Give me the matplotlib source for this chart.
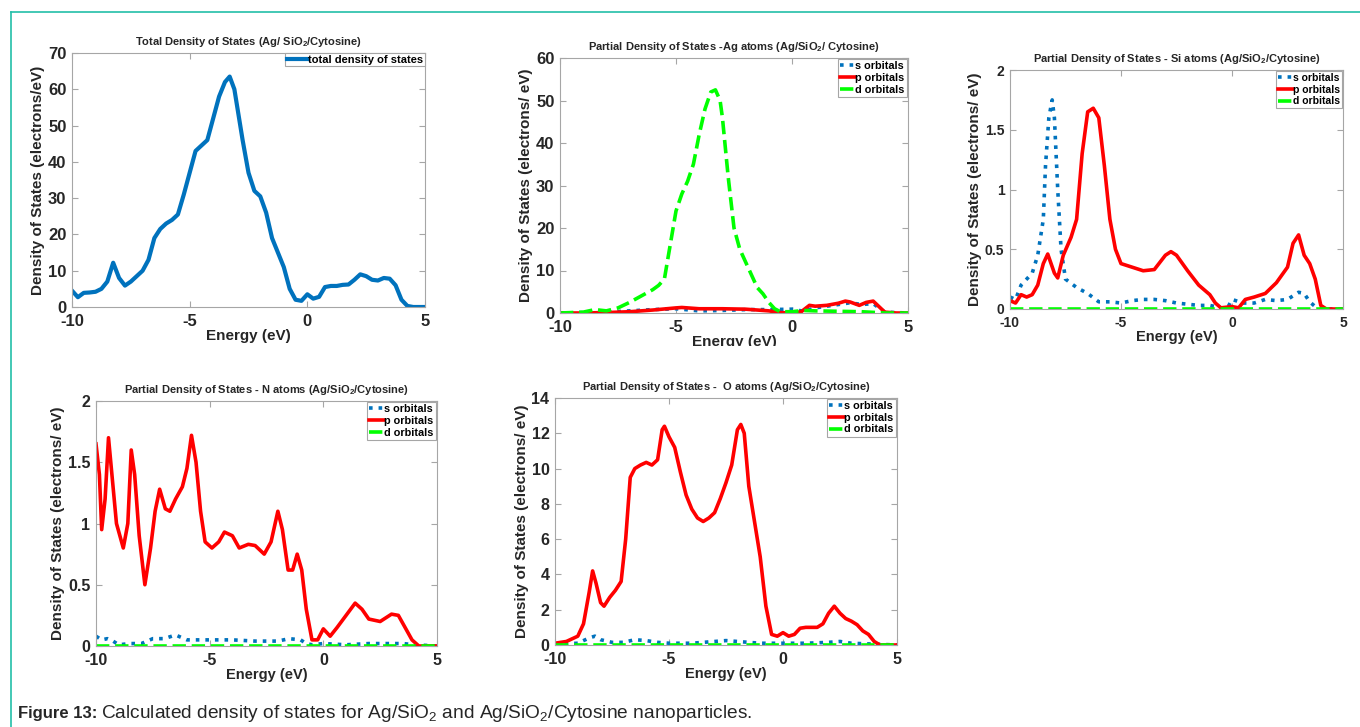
import matplotlib
matplotlib.use('Agg')
import matplotlib.pyplot as plt
from matplotlib.patches import Rectangle
from matplotlib.lines import Line2D

plt.rcParams['font.family'] = ['Liberation Sans', 'DejaVu Sans']
plt.rcParams['mathtext.default'] = 'regular'
plt.rcParams['axes.unicode_minus'] = False

# ---- data ----
# total DOS
tot_e = [-10, -9.75, -9.5, -9.25, -9, -8.75, -8.5, -8.25, -8, -7.75, -7.5, -7.25, -7, -6.75, -6.5,
         -6.25, -6, -5.75, -5.5, -5.25, -5, -4.75, -4.5, -4.25, -4, -3.75, -3.5, -3.3, -3.1, -3,
         -2.75, -2.5, -2.25, -2, -1.75, -1.5, -1.25, -1, -0.75, -0.5, -0.25, 0, 0.25, 0.5, 0.75,
         1, 1.25, 1.5, 1.75, 2, 2.25, 2.5, 2.75, 3, 3.25, 3.5, 3.75, 4, 4.25, 4.5, 5]
tot_dos = [4.5, 2.7, 3.9, 4.0, 4.2, 5, 7, 12.2, 8, 5.9, 7, 8.5, 10, 13, 19,
           21.5, 23, 24, 25.5, 31, 37, 43, 44.5, 46, 52, 58, 62, 63.5, 60, 56,
           46, 37, 32, 30.5, 26, 19, 15, 11, 5, 2, 1.7, 3.5, 2.3, 2.8, 5.5,
           5.8, 5.8, 6.1, 6.2, 7.5, 9, 8.5, 7.5, 7.3, 8, 7.8, 6, 2, 0.3, 0, 0]

# Ag atoms
ag_d_e = [-10, -9, -8.5, -8, -7.5, -7, -6.5, -6, -5.75, -5.5, -5.25, -5, -4.75, -4.5, -4.25, -4,
          -3.75, -3.5, -3.3, -3.1, -3, -2.75, -2.5, -2.25, -2, -1.75, -1.5, -1.25, -1, -0.75,
          -0.5, 0, 0.5, 1, 2, 3, 4, 5]
ag_d = [0, 0.2, 0.8, 0.5, 1.2, 2.5, 4, 5.5, 6.5, 8, 16, 24, 28, 31, 35, 42,
        48, 52, 52.5, 50, 46, 32, 20, 15, 12, 9, 6, 4.5, 2.5, 1,
        0.3, 0.3, 0.6, 0.5, 0.4, 0.3, 0, 0]
ag_p_e = [-10, -9, -8, -7, -6, -5, -4.75, -4.5, -4, -3, -2, -1.5, -1, -0.5, 0, 0.4, 0.75, 1,
          1.5, 2, 2.3, 2.5, 2.9, 3.2, 3.5, 3.75, 4, 4.5, 5]
ag_p = [0, 0, 0.1, 0.3, 0.7, 1.2, 1.3, 1.2, 1.0, 1.0, 0.9, 0.7, 0.5, 0.1, 0, 0.3, 1.8, 1.6,
        1.8, 2.3, 2.8, 2.6, 1.8, 2.5, 2.8, 1.5, 0.2, 0, 0]
ag_s_e = [-10, -8, -6, -5, -4, -3, -2, -1, 0, 0.5, 1, 2, 2.5, 3, 3.5, 4, 5]
ag_s = [0, 0.2, 0.8, 1.0, 0.5, 0.6, 0.8, 0.8, 0.9, 0.4, 1.2, 2, 2.4, 2.0, 2.2, 0.2, 0]

# Si atoms
si_s_e = [-10, -9.75, -9.5, -9.25, -9, -8.75, -8.5, -8.4, -8.25, -8.1, -8, -7.85, -7.7, -7.5,
          -7, -6.5, -6, -5.5, -5, -4.5, -4, -3.5, -3, -2.5, -2, -1.5, -1, -0.5, -0.2, 0,
          0.5, 1, 1.5, 2, 2.5, 3, 3.25, 3.5, 3.75, 4, 5]
si_s = [0.1, 0.08, 0.2, 0.25, 0.3, 0.45, 0.75, 1.2, 1.6, 1.75, 1.6, 1.0, 0.5, 0.25,
        0.18, 0.13, 0.06, 0.06, 0.05, 0.07, 0.08, 0.08, 0.07, 0.05, 0.04, 0.03, 0.03, 0.01, 0.01, 0.08,
        0.05, 0.05, 0.08, 0.07, 0.08, 0.14, 0.13, 0.06, 0.02, 0, 0]
si_p_e = [-10, -9.75, -9.5, -9.25, -9, -8.75, -8.5, -8.3, -8, -7.85, -7.6, -7.25, -7, -6.75,
          -6.5, -6.25, -6, -5.75, -5.5, -5.25, -5, -4.5, -4, -3.5, -3, -2.75, -2.5, -2, -1.5,
          -1, -0.75, -0.5, 0, 0.3, 0.6, 1, 1.5, 2, 2.5, 2.75, 3, 3.25, 3.5, 3.75, 4, 4.25, 5]
si_p = [0.07, 0.05, 0.12, 0.1, 0.12, 0.2, 0.38, 0.46, 0.3, 0.26, 0.45, 0.6, 0.75, 1.3,
        1.65, 1.68, 1.6, 1.2, 0.75, 0.5, 0.38, 0.35, 0.32, 0.33, 0.45, 0.48, 0.45, 0.32, 0.2,
        0.12, 0.05, 0.01, 0.02, 0.01, 0.08, 0.1, 0.13, 0.22, 0.35, 0.55, 0.62, 0.45, 0.38, 0.25, 0.03, 0, 0]
si_d_e = [-10, 5]
si_d = [0, 0]

# N atoms
n_p_e = [-10, -9.85, -9.75, -9.6, -9.45, -9.3, -9.1, -8.8, -8.6, -8.45, -8.3, -8.1, -7.85, -7.6,
         -7.4, -7.2, -6.95, -6.75, -6.5, -6.2, -6, -5.8, -5.6, -5.4, -5.2, -4.9, -4.6, -4.35,
         -4, -3.7, -3.3, -3, -2.6, -2.3, -2.0, -1.8, -1.55, -1.35, -1.15, -0.95, -0.75, -0.5,
         -0.25, 0, 0.3, 0.6, 1, 1.4, 1.7, 2, 2.5, 3, 3.3, 3.6, 3.9, 4.2, 5]
n_p = [1.65, 1.4, 0.95, 1.2, 1.7, 1.4, 1.0, 0.8, 1.0, 1.6, 1.4, 0.9, 0.5, 0.8,
       1.1, 1.28, 1.12, 1.1, 1.2, 1.3, 1.45, 1.72, 1.5, 1.1, 0.85, 0.8, 0.85, 0.93,
       0.9, 0.8, 0.83, 0.82, 0.75, 0.85, 1.1, 0.95, 0.62, 0.62, 0.75, 0.62, 0.3, 0.05,
       0.05, 0.14, 0.08, 0.15, 0.25, 0.35, 0.3, 0.22, 0.2, 0.26, 0.25, 0.15, 0.05, 0, 0]
n_s_e = [-10, -9.75, -9.5, -9.25, -9, -8.5, -8, -7.5, -7, -6.5, -6, -5, -4, -3, -2, -1.5, -1,
         -0.75, -0.5, 0, 1, 2, 3, 3.5, 4, 5]
n_s = [0.08, 0.05, 0.06, 0.04, 0.01, 0.02, 0.02, 0.06, 0.06, 0.09, 0.05, 0.05, 0.05, 0.04, 0.04,
       0.06, 0.05, 0.02, 0.01, 0.02, 0.01, 0.02, 0.02, 0.02, 0.01, 0]
n_d_e = [-10, 5]
n_d = [0, 0]

# O atoms
o_p_e = [-10, -9.5, -9, -8.75, -8.5, -8.35, -8.2, -8, -7.85, -7.6, -7.35, -7.1, -6.9, -6.7,
         -6.5, -6.25, -6, -5.75, -5.5, -5.3, -5.2, -5, -4.75, -4.5, -4.25, -4, -3.75, -3.5,
         -3.25, -3, -2.75, -2.5, -2.25, -2, -1.85, -1.7, -1.5, -1.25, -1, -0.75, -0.5, -0.25,
         0, 0.25, 0.5, 0.75, 1, 1.5, 1.75, 2, 2.25, 2.5, 2.75, 3, 3.25, 3.5, 3.75, 4, 4.25, 5]
o_p = [0.1, 0.2, 0.5, 1.2, 3.0, 4.2, 3.5, 2.4, 2.2, 2.7, 3.1, 3.6, 6, 9.5,
       10, 10.2, 10.35, 10.2, 10.5, 12.2, 12.4, 11.8, 11.2, 9.8, 8.5, 7.7, 7.2, 7.0,
       7.2, 7.5, 8.3, 9.2, 10.2, 12.2, 12.5, 12, 9, 7, 5, 2.2, 0.6, 0.5,
       0.7, 0.5, 0.6, 0.95, 1.0, 1.0, 1.2, 1.8, 2.2, 1.8, 1.5, 1.35, 1.15, 0.8, 0.6, 0.2, 0, 0]
o_s_e = [-10, -9, -8.5, -8.25, -8, -7.5, -7, -6.5, -6, -5.5, -5, -4, -3, -2.5, -2, -1, 0, 1,
         2, 2.5, 3, 4, 5]
o_s = [0.05, 0.1, 0.4, 0.5, 0.3, 0.15, 0.15, 0.3, 0.25, 0.15, 0.1, 0.1, 0.2, 0.25, 0.2, 0.1,
       0.1, 0.1, 0.15, 0.2, 0.1, 0.05, 0]
o_d_e = [-10, 5]
o_d = [0, 0]

BLUE = '#0072BD'
RED = '#FF0000'
GREEN = '#00FF00'
SPINE = '#a6a6a6'
TXT = '#262626'

fig = plt.figure(figsize=(13.6, 7.27), dpi=100)
W, H = 1360, 727


def make_ax(left, top, right, bottom):
    return fig.add_axes([left / W, 1 - bottom / H, (right - left) / W, (bottom - top) / H])


def style(ax, title, ylabel, ylim, yticks, yticklabels, tsize, xlsize):
    ax.set_xlim(-10, 5)
    ax.set_xticks([-10, -5, 0, 5])
    ax.set_ylim(*ylim)
    ax.set_yticks(yticks)
    ax.set_yticklabels(yticklabels)
    ax.tick_params(direction='in', length=4, width=0.8, colors=SPINE, labelcolor=TXT,
                   labelsize=tsize, top=True, right=True)
    ax.tick_params(axis='x', pad=5)
    ax.tick_params(axis='y', pad=4)
    for lab in ax.get_xticklabels() + ax.get_yticklabels():
        lab.set_fontweight('bold')
    for s in ax.spines.values():
        s.set_color(SPINE)
        s.set_linewidth(0.8)
    ax.set_title(title, fontsize=8, fontweight='bold', color=TXT, pad=6)
    ax.set_ylabel(ylabel, fontsize=11, fontweight='bold', color=TXT, labelpad=2)
    ax.set_xlabel('Energy (eV)', fontsize=xlsize, fontweight='bold', color=TXT, labelpad=0)


def orbitals(ax, se, s, pe, p, de, d, fs=7.8):
    ax.plot(se, s, ':', color=BLUE, lw=2.6, label='s orbitals')
    ax.plot(pe, p, '-', color=RED, lw=2.6, label='p orbitals')
    ax.plot(de, d, '--', color=GREEN, lw=2.6, label='d orbitals')
    leg = ax.legend(loc='upper right', borderaxespad=0.1, handlelength=1.4,
                    handletextpad=0.0, labelspacing=0.15, borderpad=0.2, fancybox=False,
                    framealpha=1, edgecolor=SPINE, prop={'weight': 'bold', 'size': fs})
    leg.get_frame().set_linewidth(0.8)


# panel 1: total DOS
ax1 = make_ax(72, 53, 425, 307)
ax1.plot(tot_e, tot_dos, '-', color=BLUE, lw=3, label='total density of states')
style(ax1, 'Total Density of States (Ag/ SiO$_2$/Cytosine)', 'Density of States (electrons/eV)',
      (0, 70), range(0, 71, 10), [str(v) for v in range(0, 71, 10)], 12, 11)
leg = ax1.legend(loc='upper right', borderaxespad=0, handlelength=1.9, handletextpad=0.0,
                 borderpad=0.15, fancybox=False, framealpha=1, edgecolor=SPINE,
                 prop={'weight': 'bold', 'size': 8})
leg.get_frame().set_linewidth(0.8)

# panel 2: Ag
ax2 = make_ax(560, 58, 908, 313)
orbitals(ax2, ag_s_e, ag_s, ag_p_e, ag_p, ag_d_e, ag_d)
style(ax2, 'Partial Density of States -Ag atoms (Ag/SiO$_2$/ Cytosine)',
      'Density of States (electrons/ eV)', (0, 60), range(0, 61, 10),
      [str(v) for v in range(0, 61, 10)], 12, 11)

# panel 3: Si
ax3 = make_ax(1010, 70, 1343, 309)
orbitals(ax3, si_s_e, si_s, si_p_e, si_p, si_d_e, si_d, fs=7.5)
style(ax3, 'Partial Density of States - Si atoms (Ag/SiO$_2$/Cytosine)',
      'Density of States (electrons/ eV)', (0, 2), [0, 0.5, 1, 1.5, 2],
      ['0', '0.5', '1', '1.5', '2'], 10, 10.5)

# panel 4: N
ax4 = make_ax(96, 401, 437, 646)
orbitals(ax4, n_s_e, n_s, n_p_e, n_p, n_d_e, n_d)
style(ax4, 'Partial Density of States - N atoms (Ag/SiO$_2$/Cytosine)',
      'Density of States (electrons/ eV)', (0, 2), [0, 0.5, 1, 1.5, 2],
      ['0', '0.5', '1', '1.5', '2'], 11.5, 10.5)

# panel 5: O
ax5 = make_ax(555, 398, 897, 645)
orbitals(ax5, o_s_e, o_s, o_p_e, o_p, o_d_e, o_d)
style(ax5, 'Partial Density of States -  O atoms (Ag/SiO$_2$/Cytosine)',
      'Density of States (electrons/ eV)', (0, 14), range(0, 15, 2),
      [str(v) for v in range(0, 15, 2)], 11.5, 10.5)

# the Ag panel's x label is cut off in the source figure
fig.add_artist(Rectangle((600 / W, 1 - 362 / H), 250 / W, 16 / H, transform=fig.transFigure,
                         facecolor='white', edgecolor='none', zorder=10))

# teal frame
fig.add_artist(Line2D([11 / W, 11 / W], [0, 1 - 12 / H], transform=fig.transFigure,
                      color='#22bfa8', lw=1.2))
fig.add_artist(Line2D([11 / W, 1], [1 - 12 / H, 1 - 12 / H], transform=fig.transFigure,
                      color='#22bfa8', lw=1.2))

# caption, bold part then regular part on the same baseline
cap_y = 1 - 718 / H
cap1 = fig.text(18 / W, cap_y, 'Figure 13:', fontsize=12, fontweight='bold', color=TXT,
                va='baseline')
fig.canvas.draw()
x_end = cap1.get_window_extent().x1
fig.text((x_end + 4) / W, cap_y,
         'Calculated density of states for Ag/SiO$_2$ and Ag/SiO$_2$/Cytosine nanoparticles.',
         fontsize=13.8, color=TXT, va='baseline')

fig.savefig('out.png', dpi=100)
